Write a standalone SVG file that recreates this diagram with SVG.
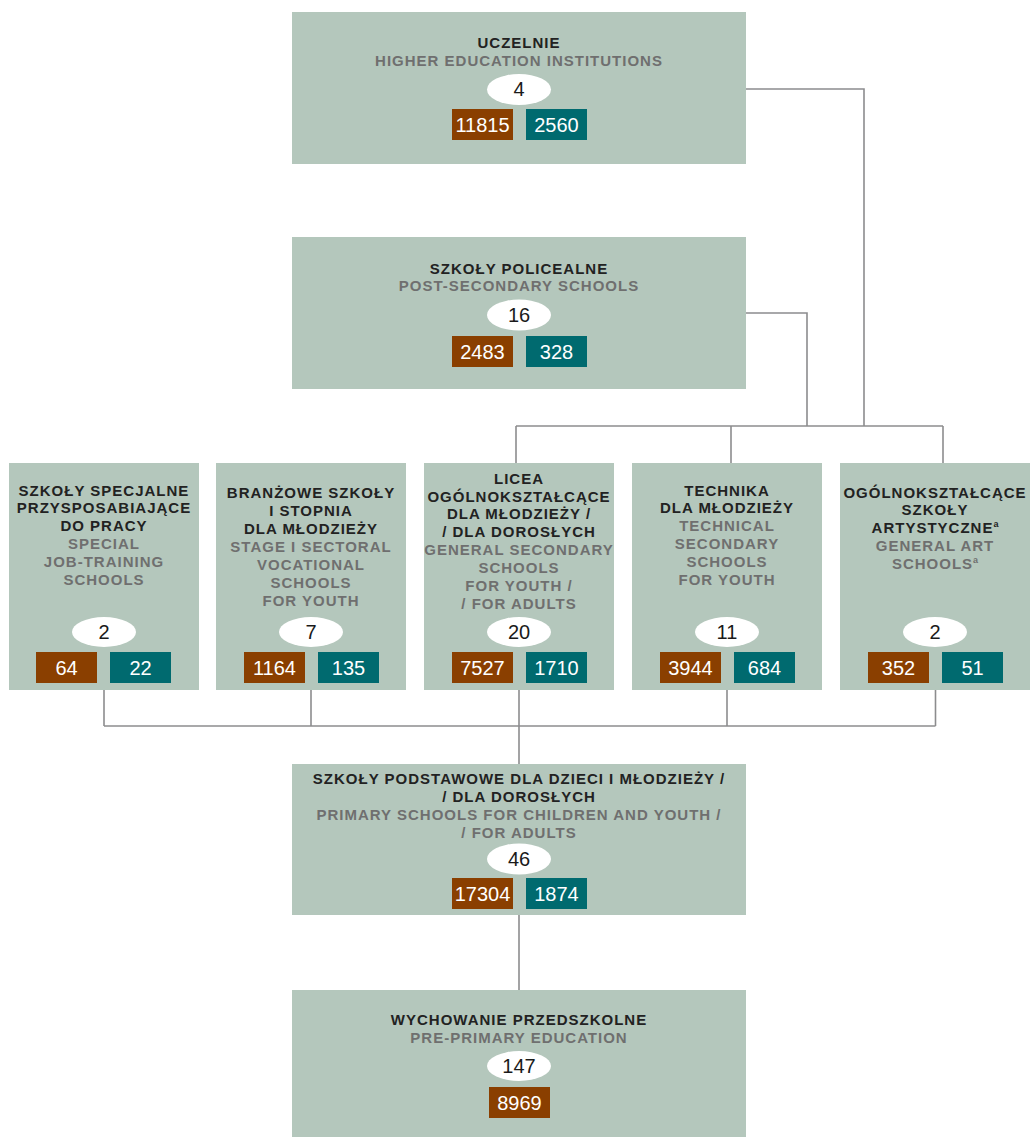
<svg xmlns="http://www.w3.org/2000/svg" width="1030" height="1137" viewBox="0 0 1030 1137">
<defs>
<style>
.box{fill:#b4c7bc}
.t{font-family:"Liberation Sans",Arial,sans-serif;font-weight:bold;font-size:15px;letter-spacing:1px;text-anchor:middle;fill:#222}
.e{fill:#6f6f6f}
.sup{font-size:9px;letter-spacing:0}
.ov{fill:#fff}
.n{font-family:"Liberation Sans",Arial,sans-serif;font-size:20px;text-anchor:middle;fill:#1a1a1a}
.w{fill:#fff}
.br{fill:#8a3f00}
.tl{fill:#006a6f}
.ln{stroke:#8c8c8e;stroke-width:1.6;fill:none}
</style>
</defs>
<rect width="1030" height="1137" fill="#fff"/>

<g id="connectors">
<polyline class="ln" points="746,89 864,89 864,426"/>
<polyline class="ln" points="746,313 807,313 807,426"/>
<line class="ln" x1="516" y1="426" x2="943" y2="426"/>
<line class="ln" x1="516" y1="426" x2="516" y2="463"/>
<line class="ln" x1="731" y1="426" x2="731" y2="463"/>
<line class="ln" x1="943" y1="426" x2="943" y2="463"/>
<line class="ln" x1="104" y1="690" x2="104" y2="726"/>
<line class="ln" x1="311" y1="690" x2="311" y2="726"/>
<line class="ln" x1="727" y1="690" x2="727" y2="726"/>
<line class="ln" x1="935.5" y1="690" x2="935.5" y2="726"/>
<line class="ln" x1="104" y1="726" x2="935.5" y2="726"/>
<line class="ln" x1="519" y1="690" x2="519" y2="764"/>
<line class="ln" x1="519" y1="915" x2="519" y2="990"/>
</g>

<g id="uczelnie">
<rect class="box" x="292" y="12" width="454" height="152"/>
<text class="t" x="519" y="48">UCZELNIE</text>
<text class="t e" x="519" y="65.5">HIGHER EDUCATION INSTITUTIONS</text>
<ellipse class="ov" cx="519" cy="89.5" rx="32" ry="15.5"/>
<text class="n" x="519" y="96">4</text>
<rect class="br" x="452" y="109" width="61" height="31"/>
<text class="n w" x="482.5" y="132.3">11815</text>
<rect class="tl" x="526" y="109" width="61" height="31"/>
<text class="n w" x="556.5" y="132.3">2560</text>
</g>

<g id="policealne">
<rect class="box" x="292" y="237" width="454" height="152"/>
<text class="t" x="519" y="273.5">SZKOŁY POLICEALNE</text>
<text class="t e" x="519" y="291">POST-SECONDARY SCHOOLS</text>
<ellipse class="ov" cx="519" cy="315" rx="32" ry="15.5"/>
<text class="n" x="519" y="321.5">16</text>
<rect class="br" x="452" y="336" width="61" height="31"/>
<text class="n w" x="482.5" y="359.3">2483</text>
<rect class="tl" x="526" y="336" width="61" height="31"/>
<text class="n w" x="556.5" y="359.3">328</text>
</g>

<g id="specjalne">
<rect class="box" x="9" y="463" width="190" height="227"/>
<text class="t" x="104" y="495.5">SZKOŁY SPECJALNE</text>
<text class="t" x="104" y="513.3">PRZYSPOSABIAJĄCE</text>
<text class="t" x="104" y="531">DO PRACY</text>
<text class="t e" x="104" y="549">SPECIAL</text>
<text class="t e" x="104" y="567">JOB-TRAINING</text>
<text class="t e" x="104" y="585">SCHOOLS</text>
<ellipse class="ov" cx="104" cy="632" rx="32" ry="15"/>
<text class="n" x="104" y="638.5">2</text>
<rect class="br" x="36" y="652" width="61" height="31"/>
<text class="n w" x="66.5" y="675.3">64</text>
<rect class="tl" x="110" y="652" width="61" height="31"/>
<text class="n w" x="140.5" y="675.3">22</text>
</g>

<g id="branzowe">
<rect class="box" x="216" y="463" width="190" height="227"/>
<text class="t" x="311" y="498">BRANŻOWE SZKOŁY</text>
<text class="t" x="311" y="516">I STOPNIA</text>
<text class="t" x="311" y="534">DLA MŁODZIEŻY</text>
<text class="t e" x="311" y="552">STAGE I SECTORAL</text>
<text class="t e" x="311" y="570">VOCATIONAL</text>
<text class="t e" x="311" y="588">SCHOOLS</text>
<text class="t e" x="311" y="606">FOR YOUTH</text>
<ellipse class="ov" cx="311" cy="632" rx="32" ry="15"/>
<text class="n" x="311" y="638.5">7</text>
<rect class="br" x="244" y="652" width="61" height="31"/>
<text class="n w" x="274.5" y="675.3">1164</text>
<rect class="tl" x="318" y="652" width="61" height="31"/>
<text class="n w" x="348.5" y="675.3">135</text>
</g>

<g id="licea">
<rect class="box" x="424" y="463" width="190" height="227"/>
<text class="t" x="519" y="484">LICEA</text>
<text class="t" x="519" y="501.7">OGÓLNOKSZTAŁCĄCE</text>
<text class="t" x="519" y="519.3">DLA MŁODZIEŻY /</text>
<text class="t" x="519" y="537.3">/ DLA DOROSŁYCH</text>
<text class="t e" x="519" y="555.3">GENERAL SECONDARY</text>
<text class="t e" x="519" y="573.3">SCHOOLS</text>
<text class="t e" x="519" y="591">FOR YOUTH /</text>
<text class="t e" x="519" y="608.7">/ FOR ADULTS</text>
<ellipse class="ov" cx="519" cy="632" rx="32" ry="15"/>
<text class="n" x="519" y="638.5">20</text>
<rect class="br" x="452" y="652" width="61" height="31"/>
<text class="n w" x="482.5" y="675.3">7527</text>
<rect class="tl" x="526" y="652" width="61" height="31"/>
<text class="n w" x="556.5" y="675.3">1710</text>
</g>

<g id="technika">
<rect class="box" x="632" y="463" width="190" height="227"/>
<text class="t" x="727" y="495.7">TECHNIKA</text>
<text class="t" x="727" y="513.3">DLA MŁODZIEŻY</text>
<text class="t e" x="727" y="531.3">TECHNICAL</text>
<text class="t e" x="727" y="549">SECONDARY</text>
<text class="t e" x="727" y="567">SCHOOLS</text>
<text class="t e" x="727" y="584.7">FOR YOUTH</text>
<ellipse class="ov" cx="727" cy="632" rx="32" ry="15"/>
<text class="n" x="727" y="638.5">11</text>
<rect class="br" x="660" y="652" width="61" height="31"/>
<text class="n w" x="690.5" y="675.3">3944</text>
<rect class="tl" x="734" y="652" width="61" height="31"/>
<text class="n w" x="764.5" y="675.3">684</text>
</g>

<g id="artystyczne">
<rect class="box" x="840" y="463" width="190" height="227"/>
<text class="t" x="935" y="497.5">OGÓLNOKSZTAŁCĄCE</text>
<text class="t" x="935" y="515.3">SZKOŁY</text>
<text class="t" x="935" y="533">ARTYSTYCZNE<tspan class="sup" dy="-6">a</tspan></text>
<text class="t e" x="935" y="551">GENERAL ART</text>
<text class="t e" x="935" y="569">SCHOOLS<tspan class="sup" dy="-6">a</tspan></text>
<ellipse class="ov" cx="935" cy="632" rx="32" ry="15"/>
<text class="n" x="935" y="638.5">2</text>
<rect class="br" x="868" y="652" width="61" height="31"/>
<text class="n w" x="898.5" y="675.3">352</text>
<rect class="tl" x="942" y="652" width="61" height="31"/>
<text class="n w" x="972.5" y="675.3">51</text>
</g>

<g id="podstawowe">
<rect class="box" x="292" y="764" width="454" height="151"/>
<text class="t" x="519" y="784">SZKOŁY PODSTAWOWE DLA DZIECI I MŁODZIEŻY /</text>
<text class="t" x="519" y="802">/ DLA DOROSŁYCH</text>
<text class="t e" x="519" y="820">PRIMARY SCHOOLS FOR CHILDREN AND YOUTH /</text>
<text class="t e" x="519" y="837.7">/ FOR ADULTS</text>
<ellipse class="ov" cx="519" cy="859" rx="32" ry="15.5"/>
<text class="n" x="519" y="865.5">46</text>
<rect class="br" x="452" y="878" width="61" height="31"/>
<text class="n w" x="482.5" y="901.3">17304</text>
<rect class="tl" x="526" y="878" width="61" height="31"/>
<text class="n w" x="556.5" y="901.3">1874</text>
</g>

<g id="przedszkolne">
<rect class="box" x="292" y="990" width="454" height="147"/>
<text class="t" x="519" y="1025.3">WYCHOWANIE PRZEDSZKOLNE</text>
<text class="t e" x="519" y="1043">PRE-PRIMARY EDUCATION</text>
<ellipse class="ov" cx="519" cy="1066" rx="32" ry="15"/>
<text class="n" x="519" y="1072.5">147</text>
<rect class="br" x="489" y="1087" width="61" height="31"/>
<text class="n w" x="519.5" y="1110.3">8969</text>
</g>
</svg>
